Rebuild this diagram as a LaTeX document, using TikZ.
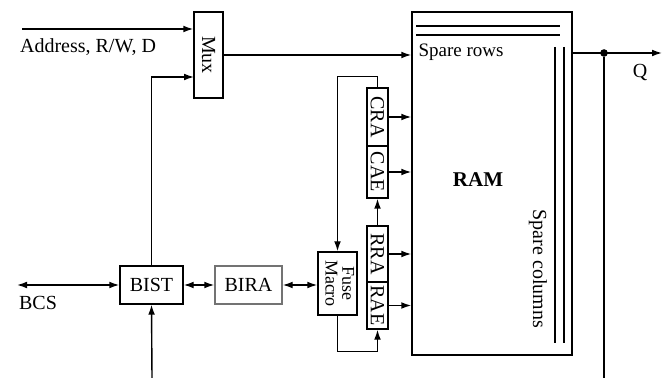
\documentclass[tikz,border=0pt]{standalone}
\usepackage{fontspec}
\setmainfont{Liberation Serif}
\usepackage{graphicx}
\usetikzlibrary{arrows.meta}

\begin{document}
\begin{tikzpicture}[
  x=0.5pt, y=-0.5pt,
  font=\fontsize{10}{11}\selectfont,
  block/.style={rectangle, draw=black, line width=0.7pt, inner sep=0pt},
  wire/.style={line width=0.7pt},
  arr/.style={wire, -{Latex[length=5pt,width=3.4pt]}},
  biarr/.style={wire, {Latex[length=5pt,width=3.4pt]}-{Latex[length=5pt,width=3.4pt]}},
  spare_line/.style={line width=1.3pt}
]
  \useasboundingbox (0,0) rectangle (667,378);

  % --- MEMORIA (RAM con filas y columnas de repuesto) ---
  \node[block, minimum width=80pt, minimum height=171.5pt] (ram) at (492,183.5) {};
  \node[font=\fontsize{10.5}{12}\selectfont\bfseries] (ram_lbl) at (478,180) {RAM};

  \draw[spare_line] (416,26) -- (560,26);
  \draw[spare_line] (416,35) -- (560,35);
  \node[font=\fontsize{9.5}{10}\selectfont] (rows_lbl) at (461,52) {Spare rows};

  \draw[spare_line] (555,47) -- (555,343);
  \draw[spare_line] (564,47) -- (564,343);
  \node[rotate=-90] (cols_lbl) at (538,269) {Spare columns};

  % --- Multiplexor de entrada ---
  \node[block, minimum width=14.5pt, minimum height=43pt] (mux) at (208.5,55) {\rotatebox{-90}{Mux}};
  \coordinate (addr_in) at (22,29);
  \coordinate (mux_in) at (194,77);

  \draw[arr] (addr_in) -- (addr_in -| mux.west);
  \node[anchor=west] (addr_lbl) at (13,47) {Address, R/W, D};
  \draw[arr] (mux.east) -- (mux.east -| ram.west);

  % --- Registros de reparacion ---
  \node[block, minimum width=10.5pt, minimum height=29pt] (cra) at (377.5,117) {\rotatebox{-90}{CRA}};
  \node[block, minimum width=10.5pt, minimum height=26pt] (cae) at (377.5,172) {\rotatebox{-90}{CAE}};
  \node[block, minimum width=10.5pt, minimum height=28pt] (rra) at (377.5,254) {\rotatebox{-90}{RRA}};
  \node[block, minimum width=10.5pt, minimum height=23.5pt] (rae) at (377.5,305.5) {\rotatebox{-90}{RAE}};

  \draw[arr] (cra.east) -- (cra.east -| ram.west);
  \draw[arr] (cae.east) -- (cae.east -| ram.west);
  \draw[arr] (rra.east) -- (rra.east -| ram.west);
  \draw[arr] (rae.east) -- (rae.east -| ram.west);
  \draw[arr] (rra.north) -- (cae.south);

  % --- Fuse Macro ---
  \node[block, minimum width=19.5pt, minimum height=31.5pt] (fuse) at (337.5,283.5)
    {\rotatebox{-90}{\fontsize{9}{8}\selectfont\begin{tabular}{@{}c@{}}Fuse\\Macro\end{tabular}}};

  \draw[arr] (cra.north) -- ++(0,-11) -| (fuse.north);
  \draw[arr] (fuse.south) -- ++(0,36) -| (rae.south);

  % --- BIST y BIRA ---
  \node[block, minimum width=31.5pt, minimum height=19pt] (bist) at (151.5,285) {BIST};
  \node[block, draw=black!55, minimum width=33.5pt, minimum height=19pt] (bira) at (248.5,285) {BIRA};
  \coordinate (bcs_end) at (17,285);
  \coordinate (test_in) at (152,378);

  \draw[biarr] (bcs_end) -- (bist.west);
  \node (bcs_lbl) at (38,303) {BCS};
  \draw[biarr] (bist.east) -- (bira.west);
  \draw[biarr] (bira.east) -- (bira.east -| fuse.west);
  \draw[arr] (test_in) -- (bist.south);
  \draw[arr] (bist.north) |- (mux_in);

  % --- Salida Q ---
  \coordinate (q_out) at (662,53);
  \coordinate (fb_end) at (604,378);
  \node[circle, fill=black, inner sep=0pt, minimum size=3.8pt] (tap) at (604,53) {};

  \draw[arr] (ram.east |- q_out) -- (q_out);
  \draw[wire] (tap) -- (fb_end);
  \node (q_lbl) at (640,73) {Q};
\end{tikzpicture}
\end{document}
